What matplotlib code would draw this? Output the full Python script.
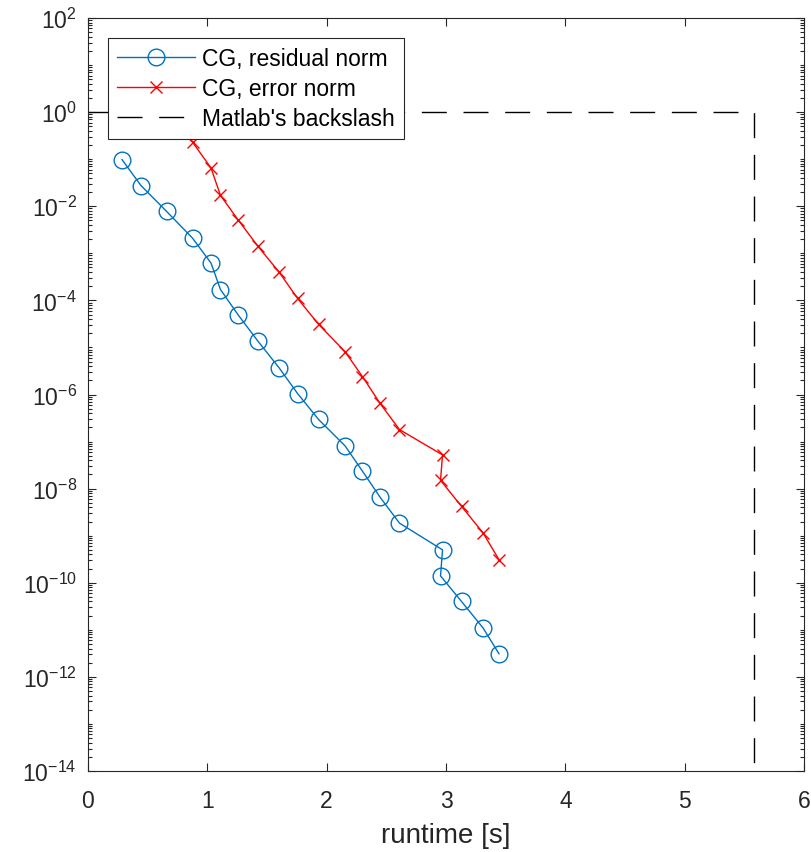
import numpy as np
import matplotlib
matplotlib.use("Agg")
import matplotlib.pyplot as plt
from matplotlib.ticker import FixedLocator, LogFormatterSciNotation, NullFormatter

plt.rcParams["font.family"] = ["Liberation Sans", "DejaVu Sans"]
plt.rcParams["mathtext.fontset"] = "custom"
plt.rcParams["mathtext.rm"] = "Liberation Sans"
plt.rcParams["mathtext.it"] = "Liberation Sans"
plt.rcParams["mathtext.bf"] = "Liberation Sans"
plt.rcParams["lines.scale_dashes"] = False

# runtime of each CG iterate [s]
runtime = [0.285, 0.444, 0.658, 0.876, 1.031, 1.110, 1.261, 1.425, 1.601, 1.756,
           1.932, 2.154, 2.300, 2.447, 2.610, 2.971, 2.954, 3.130, 3.310, 3.444]

# relative residual norm per iterate
residual_norm = [9.8e-2, 2.75e-2, 7.8e-3, 2.1e-3, 6.2e-4, 1.7e-4, 4.8e-5, 1.35e-5,
                 3.7e-6, 1.05e-6, 2.95e-7, 8.1e-8, 2.35e-8, 6.6e-9, 1.85e-9,
                 5.0e-10, 1.4e-10, 4.0e-11, 1.1e-11, 3.1e-12]

# relative error norm per iterate
error_norm = [1.0e1, 2.8e0, 8.1e-1, 2.3e-1, 6.5e-2, 1.7e-2, 5.0e-3, 1.4e-3, 4.0e-4,
              1.1e-4, 3.1e-5, 8.1e-6, 2.4e-6, 6.5e-7, 1.8e-7, 5.2e-8, 1.5e-8,
              4.2e-9, 1.15e-9, 3.1e-10]

# direct solve: runtime and error level
backslash_time = 5.58
backslash_x = [0.0, backslash_time, backslash_time]
backslash_y = [1.0, 1.0, 1e-14]

axis_gray = (0.15, 0.15, 0.15)

fig = plt.figure(figsize=(8.11, 8.53), dpi=100)
ax = fig.add_axes([88 / 811, 1 - 772 / 853, 716 / 811, 753 / 853])

ax.plot(runtime, residual_norm, color="#0072BD", lw=1.0, marker="o",
        markersize=12, markerfacecolor="none", markeredgewidth=1.0,
        label="CG, residual norm")
ax.plot(runtime, error_norm, color="#FF0000", lw=1.0, marker="x",
        markersize=8, markeredgewidth=1.0, label="CG, error norm")
ax.plot(backslash_x, backslash_y, color="black", lw=1.0,
        dashes=(18, 12), label="Matlab's backslash")

ax.set_yscale("log")
ax.set_xlim(0, 6)
ax.set_ylim(1e-14, 1e2)
ax.set_xticks(np.arange(0, 7, 1))

major = 10.0 ** np.arange(-14, 3, 2)
minor = [k * 10.0 ** e for e in range(-14, 2) for k in range(1, 10)
         if not (k == 1 and e % 2 == 0)]
ax.yaxis.set_major_locator(FixedLocator(major))
ax.yaxis.set_major_formatter(LogFormatterSciNotation())
ax.yaxis.set_minor_locator(FixedLocator(minor))
ax.yaxis.set_minor_formatter(NullFormatter())

ax.tick_params(which="both", direction="in", top=True, right=True,
               colors=axis_gray, labelsize=16.5, width=0.8)
ax.tick_params(which="major", length=6)
ax.tick_params(which="minor", length=3.2)
ax.tick_params(axis="y", which="major", pad=8)
ax.tick_params(axis="x", which="major", pad=13)
ax.tick_params(axis="x", which="minor", top=False, bottom=False)
for s in ax.spines.values():
    s.set_color(axis_gray)
    s.set_linewidth(0.8)

ax.set_xlabel("runtime [s]", fontsize=20, color=axis_gray, labelpad=7)

leg = ax.legend(loc="upper left", bbox_to_anchor=(0.028, 0.973),
                borderaxespad=0, fontsize=16.5, handlelength=3.4,
                labelspacing=0.3, handletextpad=0.3, borderpad=0.4,
                fancybox=False, framealpha=1.0, edgecolor=axis_gray)
leg.get_frame().set_linewidth(0.8)
leg.set_zorder(10)

fig.savefig("out.png", dpi=100)
